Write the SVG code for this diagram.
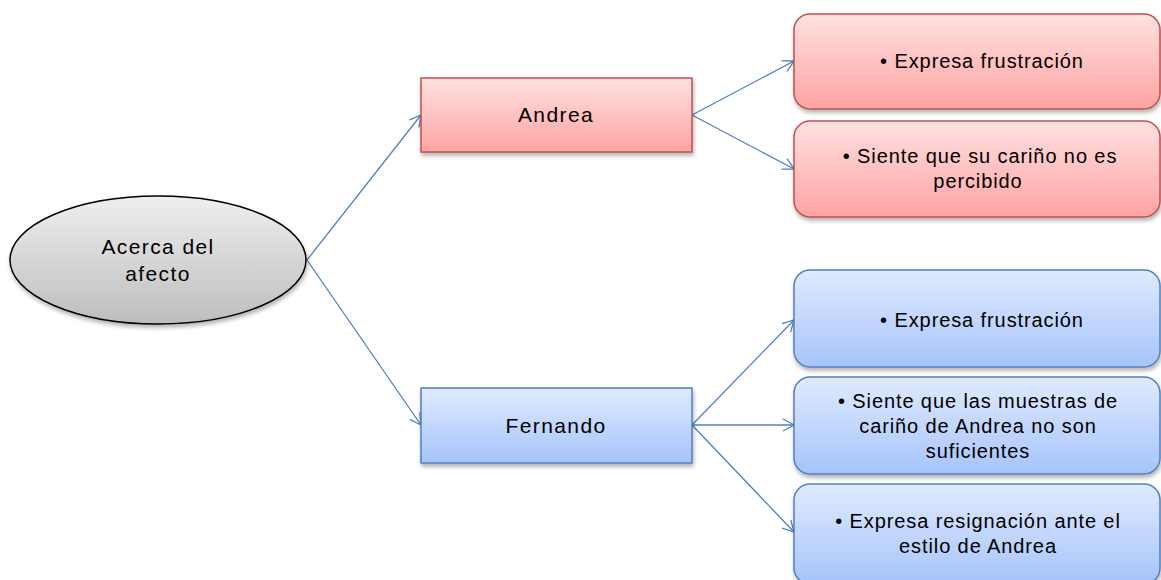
<svg xmlns="http://www.w3.org/2000/svg" width="1161" height="580" viewBox="0 0 1161 580">
<style>
.t{font-family:"Liberation Sans",Arial,sans-serif;font-size:20px;letter-spacing:0.9px;fill:#000;text-anchor:middle}
.n{font-size:21px;letter-spacing:1.4px}
.red{fill:url(#gr);stroke:#C0504D;stroke-width:1.5}
.blue{fill:url(#gb);stroke:#4F81BD;stroke-width:1.5}
.c{stroke:#4F81BD;stroke-width:1.3;fill:none;marker-end:url(#ah)}
</style>
<defs>
<linearGradient id="gr" x1="0" y1="0" x2="0" y2="1"><stop offset="0" stop-color="#FFE1E1"/><stop offset="1" stop-color="#FFA3A3"/></linearGradient>
<linearGradient id="gb" x1="0" y1="0" x2="0" y2="1"><stop offset="0" stop-color="#E0EAFF"/><stop offset="1" stop-color="#A6C4FA"/></linearGradient>
<linearGradient id="gg" x1="0" y1="0" x2="0" y2="1"><stop offset="0" stop-color="#EFEFEF"/><stop offset="1" stop-color="#BDBDBD"/></linearGradient>
<filter id="sh" x="-10%" y="-10%" width="130%" height="140%"><feDropShadow dx="1" dy="3" stdDeviation="2" flood-color="#000" flood-opacity="0.3"/></filter>
<marker id="ah" markerWidth="14" markerHeight="14" refX="12" refY="7" orient="auto" markerUnits="userSpaceOnUse"><path d="M1,1 L12,7 L1,13" fill="none" stroke="#4F81BD" stroke-width="1.3"/></marker>
</defs>
<g id="connectors">
<line class="c" x1="307" y1="260" x2="421" y2="115"/>
<line class="c" x1="307" y1="260" x2="421" y2="425"/>
<line class="c" x1="692" y1="115" x2="794" y2="61"/>
<line class="c" x1="692" y1="115" x2="794" y2="169"/>
<line class="c" x1="692" y1="425" x2="794" y2="320"/>
<line class="c" x1="692" y1="425" x2="794" y2="425"/>
<line class="c" x1="692" y1="425" x2="794" y2="532"/>
</g>
<g id="root">
<ellipse cx="158" cy="260" rx="148" ry="64" fill="url(#gg)" stroke="#000" stroke-width="1.5" filter="url(#sh)"/>
<text class="t n" x="158" y="254">Acerca del</text>
<text class="t n" x="158" y="281">afecto</text>
</g>
<g id="andrea">
<rect class="red" x="421" y="78" width="271" height="74" filter="url(#sh)"/>
<text class="t n" x="556" y="122">Andrea</text>
</g>
<g id="fernando">
<rect class="blue" x="421" y="388" width="271" height="75" filter="url(#sh)"/>
<text class="t n" x="556" y="433">Fernando</text>
</g>
<g id="a1">
<rect class="red" x="794" y="14" width="366" height="95" rx="16" filter="url(#sh)"/>
<text class="t" x="982" y="68">• Expresa frustración</text>
</g>
<g id="a2">
<rect class="red" x="794" y="121" width="366" height="96" rx="16" filter="url(#sh)"/>
<text class="t" x="980" y="163">• Siente que su cariño no es</text>
<text class="t" x="978" y="188">percibido</text>
</g>
<g id="f1">
<rect class="blue" x="794" y="270" width="366" height="97" rx="16" filter="url(#sh)"/>
<text class="t" x="982" y="327">• Expresa frustración</text>
</g>
<g id="f2">
<rect class="blue" x="794" y="377" width="366" height="97" rx="16" filter="url(#sh)"/>
<text class="t" x="978" y="408">• Siente que las muestras de</text>
<text class="t" x="978" y="433">cariño de Andrea no son</text>
<text class="t" x="978" y="458">suficientes</text>
</g>
<g id="f3">
<rect class="blue" x="794" y="484" width="366" height="100" rx="16" filter="url(#sh)"/>
<text class="t" x="978" y="528">• Expresa resignación ante el</text>
<text class="t" x="978" y="553">estilo de Andrea</text>
</g>
</svg>
